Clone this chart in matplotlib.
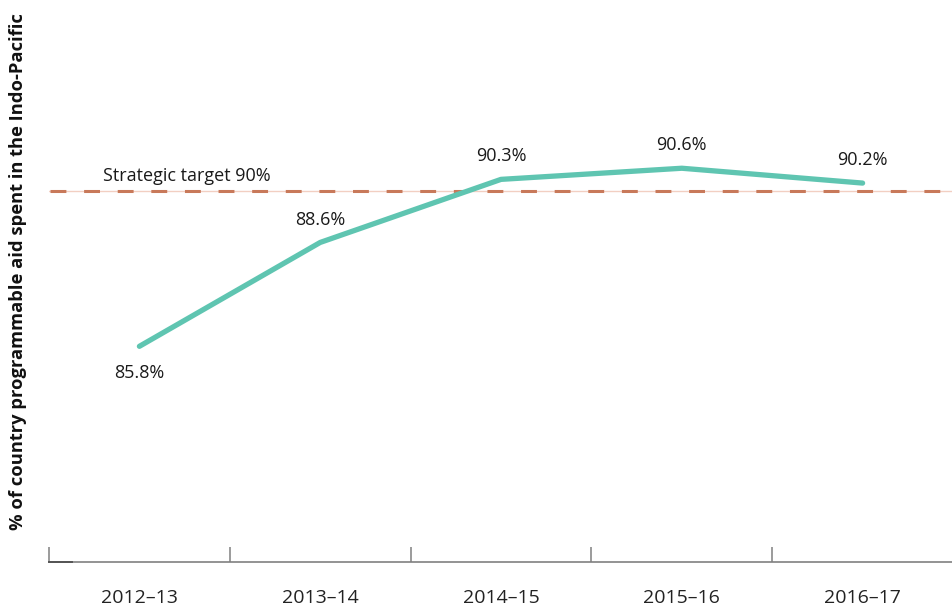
import matplotlib
matplotlib.use("Agg")
import matplotlib.pyplot as plt
import numpy as np

categories = ["2012\u201313", "2013\u201314", "2014\u201315", "2015\u201316", "2016\u201317"]
values = [85.8, 88.6, 90.3, 90.6, 90.2]
target = 90
target_label = "Strategic target 90%"
ylabel = "% of country programmable aid spent in the Indo-Pacific"

plt.rcParams['font.family'] = ['Open Sans', 'DejaVu Sans']

fig = plt.figure(figsize=(9.53, 6.08), dpi=100)
ax = fig.add_axes([49/953, 1 - 561.5/608, 1 - 49/953, (561.5 - 5)/608])

x = np.arange(len(categories))
ax.set_xlim(-0.5, -0.5 + 904/182.5)
ax.set_ylim(80, 95)

# target line: faint full line + dashes
ax.axhline(target, color="#f2cfc2", lw=1.0, zorder=1)
ax.axhline(target, color="#c8795a", lw=2.2, dashes=(5.2, 5.8), zorder=2,
           xmin=(50 - 49) / (953 - 49))
ax.text(-0.2, target + 0.16, target_label, fontsize=13, color="#1a1a1a",
        ha="left", va="bottom")

ax.plot(x, values, color="#5fc5b1", lw=3.8, solid_capstyle="round", zorder=3)

for i, v in enumerate(values):
    if i == 0:
        ax.annotate(f"{v}%", (i, v), xytext=(0, -19), textcoords="offset points",
                    ha="center", va="center", fontsize=13, color="#1a1a1a")
    else:
        ax.annotate(f"{v}%", (i, v), xytext=(0, 16.5), textcoords="offset points",
                    ha="center", va="center", fontsize=13, color="#1a1a1a")

for s in ["top", "right", "left"]:
    ax.spines[s].set_visible(False)
ax.spines["bottom"].set_color("#808080")
ax.spines["bottom"].set_linewidth(1.2)
ax.plot([0, 23/904], [0, 0], transform=ax.transAxes, color="#555555", lw=1.4,
        clip_on=False, zorder=4)

ax.set_yticks([])
ax.set_xticks(x)
ax.set_xticklabels(categories, fontsize=14, color="#222222")
ax.tick_params(axis="x", which="major", length=0, pad=20)
ax.set_xticks(np.arange(-0.5, len(categories), 1.0), minor=True)
ax.tick_params(axis="x", which="minor", direction="in", length=11, width=1.1, color="#808080")

fig.text(18/953, 1 - 272/608, ylabel, rotation=90, ha="center", va="center",
         fontsize=13.2, fontweight="bold", color="#111111")

fig.savefig("out.png", dpi=100)
